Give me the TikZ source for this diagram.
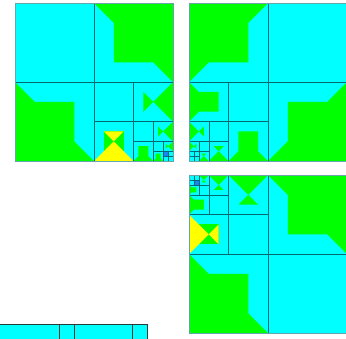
\documentclass[tikz,border=0pt]{standalone}
\definecolor{cy}{RGB}{0,255,255}
\definecolor{gn}{RGB}{0,255,0}
\definecolor{yl}{RGB}{255,255,0}
\definecolor{bl}{RGB}{30,130,240}
\definecolor{ln}{RGB}{0,105,115}
\definecolor{sl}{RGB}{40,60,60}
\tikzset{
  gr/.style={fill=gn},
  ye/.style={fill=yl},
  gl/.style={draw=ln, line width=0.45pt},
  bd/.style={draw=ln!60, line width=0.35pt},
  stripline/.style={draw=sl, line width=0.8pt}
}
\newcommand{\pcell}[4]{\begin{scope}[shift={(#1,#2)},scale=#3]#4\end{scope}}
\newcommand{\pBowR}{\fill[gr] (0.25,0.25)--(0.25,0.75)--(0.5,0.5)--cycle; \fill[gr] (0.5,0.5)--(1,0)--(1,1)--cycle;}
\newcommand{\pBowL}{\fill[gr] (0.75,0.25)--(0.75,0.75)--(0.5,0.5)--cycle; \fill[gr] (0.5,0.5)--(0,0)--(0,1)--cycle;}
\newcommand{\pBumpB}{\fill[gr] (0.25,0.25)--(0.75,0.25)--(0.75,0.75)--(1,1)--(0,1)--(0.25,0.75)--cycle;}
\newcommand{\pBumpL}{\fill[gr] (0,0)--(0.25,0.25)--(0.75,0.25)--(0.75,0.75)--(0.25,0.75)--(0,1)--cycle;}
\newcommand{\pHourY}{\fill[gr] (0.25,0.25) rectangle (0.75,0.75); \fill[ye] (0.25,0.25)--(0.75,0.25)--(0.5,0.5)--cycle; \fill[ye] (0.5,0.5)--(0,1)--(1,1)--cycle;}
\newcommand{\pHourG}{\fill[gr] (0.25,0.25)--(0.75,0.25)--(0.5,0.5)--cycle; \fill[gr] (0.5,0.5)--(0,1)--(1,1)--cycle;}
\newcommand{\panelOne}{%
  \fill[cy] (0,0) rectangle (1,1);
  \fill[gr] (0.5,0)--(0.625,0.125)--(0.625,0.375)--(0.875,0.375)--(1,0.5)--(1,0)--cycle;
  \fill[gr] (0,0.5)--(0.125,0.625)--(0.375,0.625)--(0.375,0.875)--(0.5,1)--(0,1)--cycle;
  \pcell{0.75}{0.5}{0.25}{\pBowR}
  \pcell{0.5}{0.75}{0.25}{\pHourY}
  \pcell{0.875}{0.75}{0.125}{\pBowR}
  \pcell{0.75}{0.875}{0.125}{\pBumpB}
  \pcell{0.9375}{0.875}{0.0625}{\pBowR}
  \pcell{0.875}{0.9375}{0.0625}{\pBumpB}
  \fill[bl] (0.9375,0.9375) rectangle (0.96875,0.96875);
  \draw[gl] (0.5,0)--(0.5,1) (0,0.5)--(1,0.5)
    (0.75,0.5)--(0.75,1) (0.5,0.75)--(1,0.75)
    (0.875,0.75)--(0.875,1) (0.75,0.875)--(1,0.875)
    (0.9375,0.875)--(0.9375,1) (0.875,0.9375)--(1,0.9375)
    (0.96875,0.9375)--(0.96875,1) (0.9375,0.96875)--(1,0.96875);
  \draw[bd] (0,0) rectangle (1,1);
}
\newcommand{\panelTwo}{%
  \fill[cy] (0,0) rectangle (1,1);
  \fill[gr] (0,0)--(0.5,0)--(0.375,0.125)--(0.375,0.375)--(0.125,0.375)--(0,0.5)--cycle;
  \fill[gr] (1,0.5)--(0.875,0.625)--(0.625,0.625)--(0.625,0.875)--(0.5,1)--(1,1)--cycle;
  \pcell{0}{0.5}{0.25}{\pBumpL}
  \pcell{0.25}{0.75}{0.25}{\pBumpB}
  \pcell{0}{0.75}{0.125}{\pBowL}
  \pcell{0.125}{0.875}{0.125}{\pHourG}
  \pcell{0}{0.875}{0.0625}{\pBowL}
  \pcell{0.0625}{0.9375}{0.0625}{\pHourG}
  \draw[gl] (0.5,0)--(0.5,1) (0,0.5)--(1,0.5)
    (0.25,0.5)--(0.25,1) (0,0.75)--(0.5,0.75)
    (0.125,0.75)--(0.125,1) (0,0.875)--(0.25,0.875)
    (0.0625,0.875)--(0.0625,1) (0,0.9375)--(0.125,0.9375)
    (0.03125,0.9375)--(0.03125,1) (0,0.96875)--(0.0625,0.96875);
  \draw[bd] (0,0) rectangle (1,1);
}
\begin{document}
\begin{tikzpicture}
  \useasboundingbox (0pt,0pt) rectangle (346pt,-338pt);
  \clip (0pt,0pt) rectangle (346pt,-338pt);
  \fill[white] (0pt,0pt) rectangle (346pt,-338pt);
  % panel 1
  \begin{scope}[shift={(15pt,-3pt)}, x={(158pt,0pt)}, y={(0pt,-158pt)}]
    \panelOne
  \end{scope}
  % panel 2
  \begin{scope}[shift={(189pt,-3pt)}, x={(158pt,0pt)}, y={(0pt,-158pt)}]
    \panelTwo
  \end{scope}
  % panel 3 (panel 1 mirrored about the anti-diagonal)
  \begin{scope}[shift={(347pt,-333pt)}, x={(0pt,158pt)}, y={(-158pt,0pt)}]
    \panelOne
  \end{scope}
  % bottom strip
  \coordinate (s0) at (0pt,-324pt);
  \coordinate (s1) at (147pt,-324pt);
  \coordinate (s2) at (147pt,-342pt);
  \fill[cy] (0pt,-324pt) rectangle (147pt,-342pt);
  \draw[stripline] (s0)--(s1)--(s2);
  \draw[stripline] (59pt,-324pt)--(59pt,-342pt) (74pt,-324pt)--(74pt,-342pt) (132pt,-324pt)--(132pt,-342pt);
\end{tikzpicture}
\end{document}
